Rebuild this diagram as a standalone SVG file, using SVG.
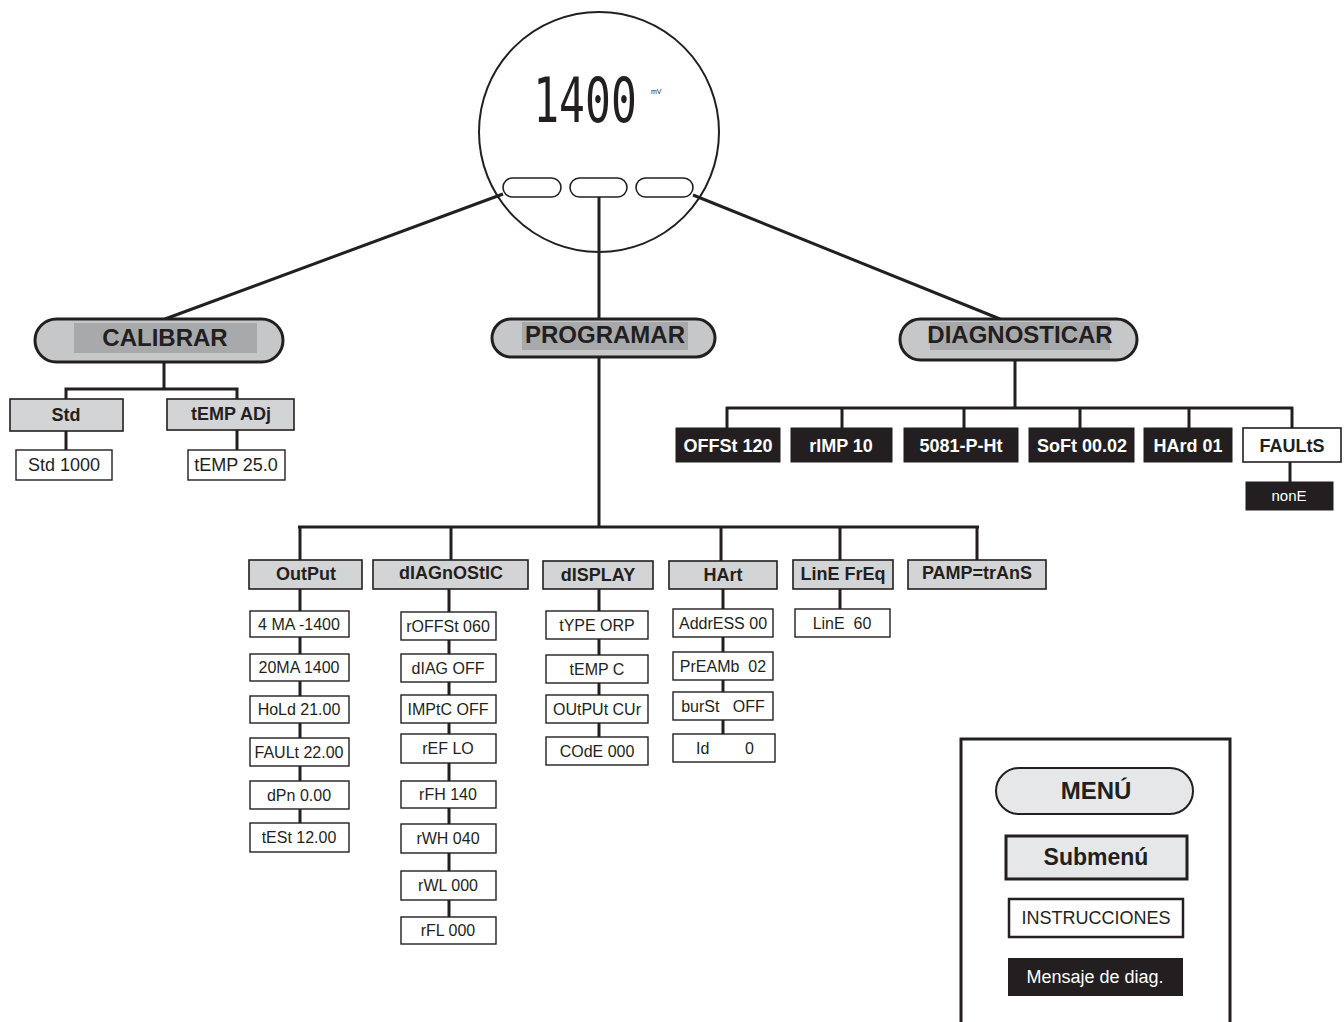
<svg xmlns="http://www.w3.org/2000/svg" width="1344" height="1022" viewBox="0 0 1344 1022">
<style>
text{font-family:"Liberation Sans",Arial,sans-serif;fill:#231f20;text-anchor:middle;white-space:pre}
.b{font-weight:bold}
.pill{fill:#c6c7c9;stroke:#231f20;stroke-width:3}
.inner{fill:#a8a9ab}
.sub{fill:#d3d4d6;stroke:#231f20;stroke-width:1.6}
.item{fill:#fff;stroke:#231f20;stroke-width:1.4}
.blk{fill:#231f20;stroke:#231f20;stroke-width:1}
.w{fill:#fff}
.conn line,.conn polyline{stroke:#231f20;stroke-width:3;fill:none}
.t1{font-size:24px;font-weight:bold}
.t2{font-size:18px;font-weight:bold}
.t3{font-size:16px}
</style>
<rect width="1344" height="1022" fill="#fff"/>

<g id="connectors" class="conn">
<line x1="503" y1="194" x2="165" y2="319"/>
<line x1="693" y1="195" x2="1000" y2="319"/>
<line x1="599" y1="197" x2="599" y2="319"/>
<line x1="164" y1="362" x2="164" y2="389"/>
<polyline points="66,399 66,389 237,389 237,399"/>
<line x1="66" y1="431" x2="66" y2="450"/>
<line x1="237" y1="430" x2="237" y2="450"/>
<line x1="599" y1="357" x2="599" y2="527"/>
<line x1="298" y1="527" x2="979" y2="527"/>
<line x1="300" y1="526" x2="300" y2="560"/>
<line x1="451" y1="526" x2="451" y2="560"/>
<line x1="721" y1="526" x2="721" y2="561"/>
<line x1="840" y1="526" x2="840" y2="560"/>
<line x1="977" y1="526" x2="977" y2="560"/>
<line x1="300" y1="589" x2="300" y2="823"/>
<line x1="449" y1="589" x2="449" y2="917"/>
<line x1="599" y1="589" x2="599" y2="737"/>
<line x1="723" y1="589" x2="723" y2="734"/>
<line x1="840" y1="589" x2="840" y2="609"/>
<line x1="1015" y1="360" x2="1015" y2="408"/>
<line x1="726" y1="408" x2="1293" y2="408"/>
<line x1="727" y1="407" x2="727" y2="428"/>
<line x1="842" y1="407" x2="842" y2="428"/>
<line x1="964" y1="407" x2="964" y2="428"/>
<line x1="1080" y1="407" x2="1080" y2="428"/>
<line x1="1189" y1="407" x2="1189" y2="428"/>
<line x1="1292" y1="407" x2="1292" y2="428"/>
<line x1="1290" y1="462" x2="1290" y2="482"/>
</g>

<g id="display">
<circle cx="599" cy="132" r="120" fill="none" stroke="#231f20" stroke-width="2"/>
<text transform="translate(585,122) scale(1,1.45)" x="0" y="0" font-size="43" style="font-family:'DejaVu Sans Mono',monospace">1400</text>
<text x="651" y="94" font-size="7" style="text-anchor:start">mV</text>
<rect x="503" y="178" width="58" height="19" rx="9.5" fill="#fff" stroke="#231f20" stroke-width="1.6"/>
<rect x="570" y="178" width="57" height="19" rx="9.5" fill="#fff" stroke="#231f20" stroke-width="1.6"/>
<rect x="636" y="178" width="57" height="19" rx="9.5" fill="#fff" stroke="#231f20" stroke-width="1.6"/>
</g>

<g id="calibrar">
<rect class="pill" x="35" y="319" width="248" height="43" rx="21.5"/>
<rect class="inner" x="74" y="323" width="183" height="30"/>
<text class="t1" x="165" y="346">CALIBRAR</text>
</g>
<g id="std"><rect class="sub" x="10" y="399" width="113" height="32"/><text class="t2" x="66" y="421">Std</text></g>
<g id="tempadj"><rect class="sub" x="167" y="399" width="127" height="31"/><text class="t2" x="231" y="420">tEMP ADj</text></g>
<g id="std1000"><rect class="item" x="16" y="450" width="96" height="30"/><text x="64" y="471" font-size="18">Std 1000</text></g>
<g id="temp250"><rect class="item" x="188" y="450" width="97" height="30"/><text x="236" y="471" font-size="18">tEMP 25.0</text></g>

<g id="programar">
<rect class="pill" x="492" y="319" width="223" height="38" rx="19"/>
<rect class="inner" x="522" y="322" width="166" height="28"/>
<text class="t1" x="605" y="343" font-size="23">PROGRAMAR</text>
</g>

<g id="output"><rect class="sub" x="249" y="560" width="113" height="29"/><text class="t2" x="306" y="580">OutPut</text></g>
<g id="diagnostic"><rect class="sub" x="373" y="560" width="155" height="29"/><text class="t2" x="451" y="579">dIAGnOStIC</text></g>
<g id="dsplay"><rect class="sub" x="543" y="561" width="110" height="28"/><text class="t2" x="598" y="581">dISPLAY</text></g>
<g id="hart"><rect class="sub" x="669" y="561" width="108" height="28"/><text class="t2" x="723" y="581">HArt</text></g>
<g id="linefreq"><rect class="sub" x="793" y="560" width="100" height="29"/><text class="t2" x="843" y="580">LinE FrEq</text></g>
<g id="pamp"><rect class="sub" x="908" y="560" width="138" height="29"/><text class="t2" x="977" y="579">PAMP=trAnS</text></g>

<g id="o1"><rect class="item" x="250" y="611" width="99" height="26"/><text class="t3" x="299" y="630">4 MA -1400</text></g>
<g id="o2"><rect class="item" x="250" y="654" width="99" height="27"/><text class="t3" x="299" y="673">20MA 1400</text></g>
<g id="o3"><rect class="item" x="250" y="696" width="99" height="27"/><text class="t3" x="299" y="715">HoLd 21.00</text></g>
<g id="o4"><rect class="item" x="250" y="738" width="99" height="28"/><text class="t3" x="299" y="758">FAULt 22.00</text></g>
<g id="o5"><rect class="item" x="250" y="781" width="99" height="28"/><text class="t3" x="299" y="801">dPn 0.00</text></g>
<g id="o6"><rect class="item" x="250" y="823" width="99" height="29"/><text class="t3" x="299" y="843">tESt 12.00</text></g>

<g id="d1"><rect class="item" x="401" y="612" width="95" height="28"/><text class="t3" x="448" y="632">rOFFSt 060</text></g>
<g id="d2"><rect class="item" x="401" y="654" width="95" height="28"/><text class="t3" x="448" y="674">dIAG OFF</text></g>
<g id="d3"><rect class="item" x="401" y="695" width="95" height="28"/><text class="t3" x="448" y="715">IMPtC OFF</text></g>
<g id="d4"><rect class="item" x="401" y="734" width="95" height="29"/><text class="t3" x="448" y="754">rEF LO</text></g>
<g id="d5"><rect class="item" x="401" y="781" width="95" height="27"/><text class="t3" x="448" y="800">rFH 140</text></g>
<g id="d6"><rect class="item" x="401" y="824" width="95" height="29"/><text class="t3" x="448" y="844">rWH 040</text></g>
<g id="d7"><rect class="item" x="401" y="871" width="95" height="29"/><text class="t3" x="448" y="891">rWL 000</text></g>
<g id="d8"><rect class="item" x="401" y="917" width="95" height="27"/><text class="t3" x="448" y="936">rFL 000</text></g>

<g id="s1"><rect class="item" x="546" y="611" width="102" height="28"/><text class="t3" x="597" y="631">tYPE ORP</text></g>
<g id="s2"><rect class="item" x="546" y="655" width="102" height="28"/><text class="t3" x="597" y="675">tEMP C</text></g>
<g id="s3"><rect class="item" x="546" y="695" width="102" height="28"/><text class="t3" x="597" y="715">OUtPUt CUr</text></g>
<g id="s4"><rect class="item" x="546" y="737" width="102" height="28"/><text class="t3" x="597" y="757">COdE 000</text></g>

<g id="h1"><rect class="item" x="673" y="609" width="100" height="28"/><text class="t3" x="723" y="629">AddrESS 00</text></g>
<g id="h2"><rect class="item" x="673" y="652" width="100" height="28"/><text class="t3" x="723" y="672">PrEAMb  02</text></g>
<g id="h3"><rect class="item" x="673" y="692" width="100" height="28"/><text class="t3" x="723" y="712">burSt   OFF</text></g>
<g id="h4"><rect class="item" x="673" y="734" width="102" height="28"/><text class="t3" x="725" y="754">Id        0</text></g>

<g id="l1"><rect class="item" x="795" y="609" width="95" height="28"/><text class="t3" x="842" y="629">LinE  60</text></g>

<g id="diagnosticar">
<rect class="pill" x="900" y="319" width="237" height="41" rx="20.5"/>
<rect class="inner" x="930" y="322" width="180" height="28"/>
<text class="t1" x="1020" y="343" font-size="23">DIAGNOSTICAR</text>
</g>
<g id="offst"><rect class="blk" x="676" y="428" width="104" height="34"/><text class="t2 w" x="728" y="452">OFFSt 120</text></g>
<g id="rimp"><rect class="blk" x="791" y="428" width="101" height="34"/><text class="t2 w" x="841" y="452">rIMP 10</text></g>
<g id="p5081"><rect class="blk" x="904" y="428" width="114" height="34"/><text class="t2 w" x="961" y="452">5081-P-Ht</text></g>
<g id="soft"><rect class="blk" x="1029" y="428" width="105" height="34"/><text class="t2 w" x="1082" y="452">SoFt 00.02</text></g>
<g id="hard"><rect class="blk" x="1144" y="428" width="88" height="34"/><text class="t2 w" x="1188" y="452">HArd 01</text></g>
<g id="faults"><rect class="item" x="1243" y="428" width="98" height="34" style="stroke-width:1.6"/><text class="t2" x="1292" y="452">FAULtS</text></g>
<g id="none"><rect class="blk" x="1246" y="482" width="87" height="28"/><text class="w" x="1289" y="501" font-size="15">nonE</text></g>

<g id="legend">
<polyline points="961,1022 961,739 1230,739 1230,1022" fill="none" stroke="#231f20" stroke-width="3"/>
<rect x="996" y="768" width="197" height="46" rx="23" fill="#e6e7e8" stroke="#231f20" stroke-width="2"/>
<text class="t1" x="1096" y="799">MENÚ</text>
<rect x="1006" y="836" width="181" height="43" fill="#e6e7e8" stroke="#231f20" stroke-width="3"/>
<text class="b" x="1096" y="865" font-size="23">Submenú</text>
<rect x="1009" y="899" width="174" height="38" fill="#fff" stroke="#231f20" stroke-width="2.5"/>
<text x="1096" y="924" font-size="18">INSTRUCCIONES</text>
<rect x="1008" y="958" width="175" height="38" fill="#231f20"/>
<text class="w" x="1095" y="983" font-size="18">Mensaje de diag.</text>
</g>
</svg>
